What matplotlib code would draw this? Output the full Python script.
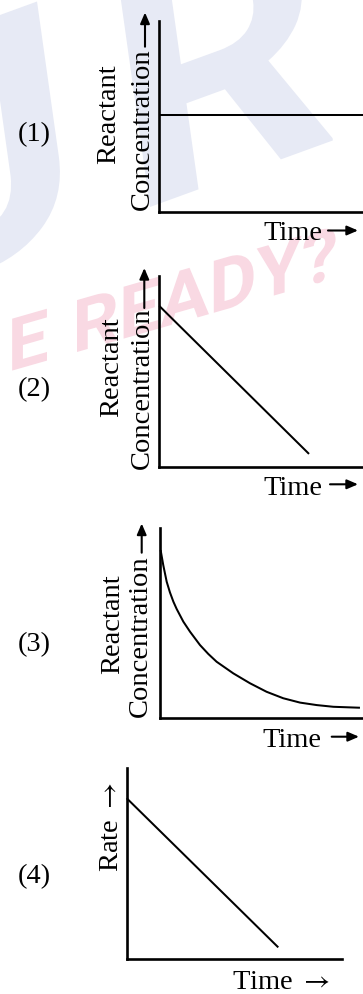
import math
import matplotlib
matplotlib.use('Agg')
import matplotlib.pyplot as plt
from matplotlib.patches import FancyArrowPatch, PathPatch
from matplotlib.textpath import TextPath
from matplotlib.font_manager import FontProperties
from matplotlib.transforms import Affine2D

W, H = 363, 994
plt.rcParams['font.family'] = ['Liberation Serif', 'DejaVu Serif']
plt.rcParams['mathtext.fontset'] = 'stix'

# ---------------- data ----------------
panel_labels = ['(1)', '(2)', '(3)', '(4)']
ylabel_top = 'Reactant'
ylabel_bottom = 'Concentration'
rate_label = r'Rate $\rightarrow$'
time_label = 'Time'
time_label_4 = r'Time $\rightarrow$'
watermark_blue = ['U', 'R']
watermark_pink = ['E', 'READY?']

time_1 = [0.0, 1.0]
conc_1 = [0.506, 0.506]

time_2 = [0.0, 0.735]
conc_2 = [0.843, 0.067]

time_3 = [0.003, 0.016, 0.033, 0.049, 0.066, 0.082, 0.115, 0.148, 0.197,
          0.238, 0.279, 0.361, 0.443, 0.525, 0.607, 0.690, 0.772, 0.854, 0.985]
conc_3 = [0.884, 0.805, 0.717, 0.661, 0.612, 0.574, 0.507, 0.454, 0.384,
          0.337, 0.296, 0.235, 0.183, 0.138, 0.104, 0.081, 0.068, 0.059, 0.054]

time_4 = [0.0, 0.705]
rate_4 = [0.843, 0.061]

series = [(time_1, conc_1), (time_2, conc_2), (time_3, conc_3), (time_4, rate_4)]

# ---------------- layout (pixels) ----------------
boxes = [(159.0, 20.7, 363.0, 211.7),
         (159.3, 276.0, 363.0, 466.7),
         (160.0, 528.0, 363.0, 718.0),
         (126.7, 768.3, 341.7, 959.0)]
FS = 20.5

fig = plt.figure(figsize=(W / 100, H / 100), dpi=100)
fig.patch.set_facecolor('white')

# background watermark
bg = fig.add_axes([0, 0, 1, 1], zorder=0)
bg.set_xlim(0, W)
bg.set_ylim(H, 0)
bg.axis('off')


def sheared_text(ax, s, x_ink_left, base_y, size, xs, ys, color):
    tp = TextPath((0, 0), s, size=size,
                  prop=FontProperties(family='Roboto', weight='bold'))
    ext = tp.get_extents()
    tr = (Affine2D().translate(-ext.x0, 0).skew_deg(xs, ys)
          .scale(1, -1).translate(x_ink_left, base_y))
    ax.add_patch(PathPatch(tr.transform_path(tp), facecolor=color,
                           edgecolor='none'))
    return ext


def ink_width(s, size):
    tp = TextPath((0, 0), s, size=size,
                  prop=FontProperties(family='Roboto', weight='bold'))
    return tp.get_extents().width


wm_blue = '#e7eaf5'
wm_pink = '#f9d9e3'

# blue letters
b_size, b_xs, b_ys = 330, -8, 20
sheared_text(bg, watermark_blue[1], 150, 207, b_size, b_xs, b_ys, wm_blue)
wu = ink_width(watermark_blue[0], b_size)
u_left = 70 - wu
sheared_text(bg, watermark_blue[0], u_left,
             207 + (150 - u_left) * math.tan(math.radians(b_ys)),
             b_size, b_xs, b_ys, wm_blue)

# pink letters
p_size, p_ys = 73, 16
sheared_text(bg, watermark_pink[1], 77, 352, p_size, 0, p_ys, wm_pink)
we = ink_width(watermark_pink[0], p_size)
e_left = 47 - we
sheared_text(bg, watermark_pink[0], e_left,
             352 + (77 - e_left) * math.tan(math.radians(p_ys)),
             p_size, 0, p_ys, wm_pink)

# panels
for (l, t, r, b), (xs, ys) in zip(boxes, series):
    ax = fig.add_axes([l / W, 1 - b / H, (r - l) / W, (b - t) / H], zorder=2)
    ax.set_facecolor('none')
    ax.plot(xs, ys, color='black', lw=1.45, clip_on=False, solid_capstyle='butt')
    ax.set_xlim(0, 1)
    ax.set_ylim(0, 1)
    for s in ['top', 'right']:
        ax.spines[s].set_visible(False)
    for s in ['left', 'bottom']:
        ax.spines[s].set_linewidth(1.9)
        ax.spines[s].set_color('black')
    ax.set_xticks([])
    ax.set_yticks([])

# overlay for text and arrows
ov = fig.add_axes([0, 0, 1, 1], zorder=5)
ov.set_facecolor('none')
ov.set_xlim(0, W)
ov.set_ylim(H, 0)
ov.axis('off')

label_pos = [(34, 135), (34, 390), (34, 645), (34, 877)]
for txt, (x, y) in zip(panel_labels, label_pos):
    ov.text(x, y, txt, fontsize=FS, ha='center', va='center')

react_pos = [(115.0, 114.0), (118.3, 367.5), (119.3, 624.5)]
conc_pos = [(149.0, 129.4), (149.3, 388.4), (146.7, 636.5)]
for (x, y) in react_pos:
    ov.text(x, y, ylabel_top, fontsize=FS, rotation=90, rotation_mode='anchor',
            ha='center', va='baseline')
for (x, y) in conc_pos:
    ov.text(x, y, ylabel_bottom, fontsize=FS, rotation=90, rotation_mode='anchor',
            ha='center', va='baseline')
ov.text(118.3, 826.7, rate_label, fontsize=FS, rotation=90, rotation_mode='anchor',
        ha='center', va='baseline')

time_pos = [(263.0, 240.0), (263.0, 495.0), (262.7, 746.7)]
for (x, y) in time_pos:
    ov.text(x, y, time_label, fontsize=FS, ha='left', va='baseline')
ov.text(231.5, 989.0, time_label_4, fontsize=FS, ha='left', va='baseline')

arrow_style = '-|>,head_length=6.5,head_width=2.8'
v_arrows = [((145.0, 46.7), (145.0, 12.5)),
            ((144.3, 308.0), (144.3, 268.0)),
            ((141.7, 552.7), (141.7, 523.5))]
h_arrows = [((328.0, 230.5), (358.0, 230.5)),
            ((330.0, 484.3), (358.0, 484.3)),
            ((331.7, 736.7), (359.0, 736.7))]
for a, b in v_arrows + h_arrows:
    ov.add_patch(FancyArrowPatch(a, b, arrowstyle=arrow_style, mutation_scale=1,
                                 color='black', lw=1.5, shrinkA=0, shrinkB=0))

fig.savefig('out.png', dpi=100, facecolor='white')
